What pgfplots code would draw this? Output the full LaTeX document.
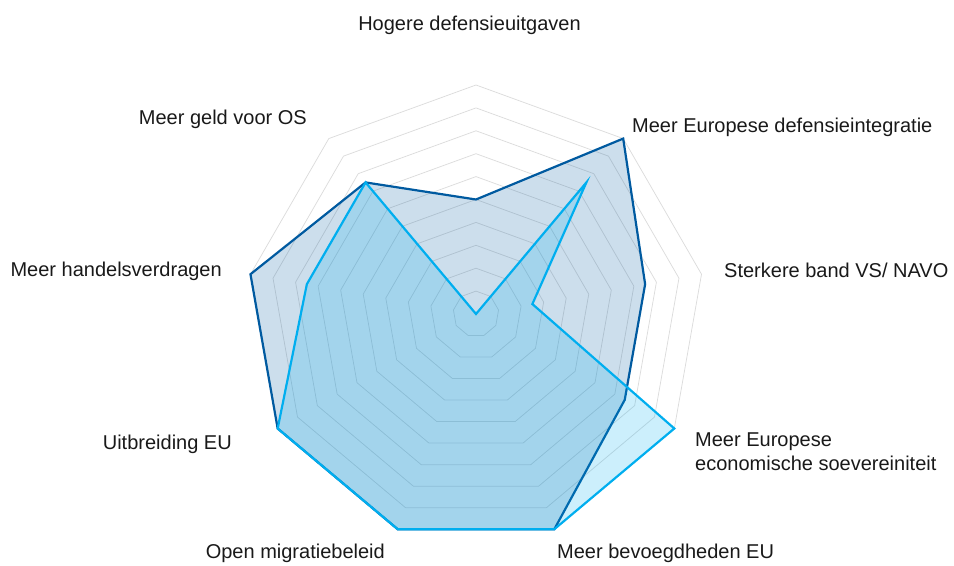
\documentclass[border=0pt]{standalone}
\usepackage{pgfplots}
\pgfplotsset{compat=1.18}
\usepgfplotslibrary{polar}
\usepackage{fontspec}
\setmainfont{Liberation Sans}
\definecolor{darkblue}{RGB}{0,90,160}
\definecolor{lightblue}{RGB}{0,174,239}
\definecolor{ringgray}{RGB}{220,220,220}
\begin{document}
\begin{tikzpicture}
\begin{polaraxis}[
  name=ax, at={(0,0)}, anchor=center,
  scale only axis, width=458bp, height=458bp,
  ymin=0, ymax=10, hide axis, clip=false,
]
\pgfplotsinvokeforeach{1,...,10}{
  \addplot[ringgray, line width=0.75bp, mark=none] coordinates
    {(90,#1) (50,#1) (10,#1) (-30,#1) (-70,#1) (-110,#1) (-150,#1) (-190,#1) (-230,#1) (-270,#1)};
}
% Series 1 (dark blue)
\addplot[draw=darkblue, line width=2.2bp, line join=miter, fill=darkblue, fill opacity=0.2, draw opacity=1, mark=none] coordinates
  {(90,5) (50,10) (10,7.5) (-30,7.5) (-70,10) (-110,10) (-150,10) (-190,10) (-230,7.5) (-270,5)} -- cycle;
% Series 2 (light blue)
\addplot[draw=lightblue, line width=2.2bp, line join=miter, fill=lightblue, fill opacity=0.2, draw opacity=1, mark=none] coordinates
  {(90,0) (50,7.5) (10,2.5) (-30,10) (-70,10) (-110,10) (-150,10) (-190,7.5) (-230,7.5) (-270,0)} -- cycle;
\end{polaraxis}
\begin{scope}[every node/.style={font=\fontsize{20bp}{24bp}\selectfont, inner sep=0pt, text=black!90}]
\node[anchor=base] at (-6.5bp,283bp) {Hogere defensieuitgaven};
\node[anchor=base west] at (156bp,181bp) {Meer Europese defensieintegratie};
\node[anchor=base west] at (248bp,37bp) {Sterkere band VS/ NAVO};
\node[anchor=base west] at (219bp,-132bp) {Meer Europese};
\node[anchor=base west] at (219bp,-156bp) {economische soevereiniteit};
\node[anchor=base west] at (81bp,-244bp) {Meer bevoegdheden EU};
\node[anchor=base east] at (-91bp,-244bp) {Open migratiebeleid};
\node[anchor=base east] at (-244bp,-135bp) {Uitbreiding EU};
\node[anchor=base east] at (-254bp,38bp) {Meer handelsverdragen};
\node[anchor=base east] at (-169bp,189bp) {Meer geld voor OS};
\end{scope}
\pgfresetboundingbox
\path[use as bounding box] (-476bp,-252bp) rectangle (478bp,314bp);
\end{tikzpicture}
\end{document}
